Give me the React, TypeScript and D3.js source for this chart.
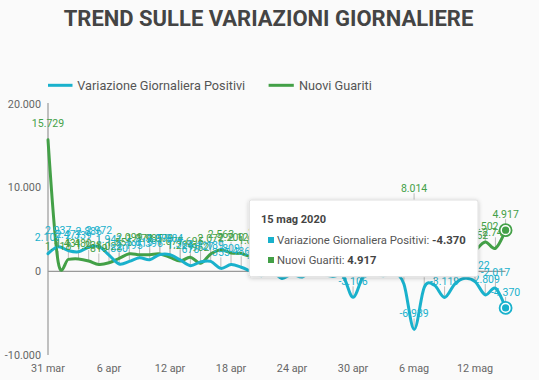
import React from 'react';
import * as d3 from 'd3';

const dates = [
  '2020-03-31', '2020-04-01', '2020-04-02', '2020-04-03', '2020-04-04', '2020-04-05', '2020-04-06',
  '2020-04-07', '2020-04-08', '2020-04-09', '2020-04-10', '2020-04-11', '2020-04-12', '2020-04-13',
  '2020-04-14', '2020-04-15', '2020-04-16', '2020-04-17', '2020-04-18', '2020-04-19', '2020-04-20',
  '2020-04-21', '2020-04-22', '2020-04-23', '2020-04-24', '2020-04-25', '2020-04-26', '2020-04-27',
  '2020-04-28', '2020-04-29', '2020-04-30', '2020-05-01', '2020-05-02', '2020-05-03', '2020-05-04',
  '2020-05-05', '2020-05-06', '2020-05-07', '2020-05-08', '2020-05-09', '2020-05-10', '2020-05-11',
  '2020-05-12', '2020-05-13', '2020-05-14', '2020-05-15',
];

const variazionePositivi = [
  2107, 2937, 2477, 2339, 2886, 2972, 1941, 880, 1195, 1615, 1396, 1996, 1984, 1363, 675, 1127,
  1189, 355, 809, 486, -20, -528, -10, -851, -321, -680, 256, -290, -608, -548, -3106, -608, -239,
  -525, -199, -1513, -6939, -1904, -1663, -3119, -1518, -836, -1222, -2809, -2017, -4370,
];

const nuoviGuariti = [
  15729, 1118, 1431, 1480, 1238, 819, 1022, 1555, 2099, 1979, 1985, 2079, 1677, 1224, 1695, 962,
  2072, 2563, 2200, 2128, 1822, 2723, 2943, 3033, 2922, 2622, 1808, 1696, 2317, 2311, 4693, 2304,
  1665, 1740, 1225, 2352, 8014, 3031, 2747, 4008, 2155, 1401, 2452, 3502, 2747, 4917,
];

const yTicks = [20000, 10000, 0, -10000];
const xTickDates = ['2020-03-31', '2020-04-06', '2020-04-12', '2020-04-18', '2020-04-24', '2020-04-30', '2020-05-06', '2020-05-12'];
const xTickLabels = ['31 mar', '6 apr', '12 apr', '18 apr', '24 apr', '30 apr', '6 mag', '12 mag'];
const seriesNames = ['Variazione Giornaliera Positivi', 'Nuovi Guariti'];
const chartTitle = 'TREND SULLE VARIAZIONI GIORNALIERE';
const tooltipTitle = '15 mag 2020';

const W = 539;
const H = 380;
const COLORS = ['#19b1cc', '#43a047'];
const FONT = 'Roboto, sans-serif';

export default function App() {
  const parse = d3.utcParse('%Y-%m-%d');
  const dt = dates.map((d) => parse(d) as Date);
  const x = d3.scaleUtc().domain([dt[0], dt[dt.length - 1]]).range([48, 505.6]);
  const y = d3.scaleLinear().domain([-10000, 20000]).range([355, 104]);
  const loc = d3.formatLocale({ decimal: ',', thousands: '.', grouping: [3], currency: ['', '€'], minus: '-' } as any);
  const fmt = loc.format(',d');

  const series = [variazionePositivi, nuoviGuariti];
  const lineGen = (vals: number[]) =>
    d3.line<number>()
      .x((_, i) => x(dt[i]))
      .y((d) => y(d))
      .curve(d3.curveCardinal)(vals) as string;

  const last = dates.length - 1;
  const xl = x(dt[last]);

  // draw order: green below, blue on top
  const order = [1, 0];

  return (
    <svg width={W} height={H} style={{ position: 'absolute', left: 0, top: 0, background: '#fafafa' }} fontFamily={FONT}>
      <defs>
        <filter id="tsh" x="-10%" y="-20%" width="120%" height="150%">
          <feDropShadow dx="0" dy="1" stdDeviation="2" floodColor="#000" floodOpacity="0.22" />
        </filter>
      </defs>
      <rect x={0} y={0} width={W} height={H} fill="#fafafa" />
      <text x={268.5} y={26} textAnchor="middle" fontSize={22} fontWeight="bold" fill="#444">{chartTitle}</text>

      {/* legend */}
      <line x1={48} x2={72.5} y1={85.3} y2={85.3} stroke={COLORS[0]} strokeWidth={3} />
      <text x={77.3} y={89.8} fontSize={12.7} fill="#555">{seriesNames[0]}</text>
      <line x1={268.6} x2={293.8} y1={85.3} y2={85.3} stroke={COLORS[1]} strokeWidth={3} />
      <text x={299} y={89.8} fontSize={12.7} fill="#555">{seriesNames[1]}</text>

      {/* axes */}
      <line x1={48} x2={48} y1={y(20000) - 1} y2={y(-10000)} stroke="#999" strokeWidth={1.2} />
      <line x1={48} x2={xl} y1={y(0)} y2={y(0)} stroke="#999" strokeWidth={1.2} />
      {yTicks.map((t) => (
        <text key={t} x={41} y={y(t) + 3.8} textAnchor="end" fontSize={10.8} fill="#666">{fmt(t)}</text>
      ))}
      {xTickDates.map((d, i) => (
        <text key={d} x={x(parse(d) as Date)} y={371.5} textAnchor="middle" fontSize={10.8} fill="#666">{xTickLabels[i]}</text>
      ))}

      {/* stems */}
      {order.map((s) =>
        series[s].map((v, i) => (
          <line key={`st${s}-${i}`} x1={x(dt[i])} x2={x(dt[i])} y1={y(v)} y2={y(v) - 11} stroke="#bbb" strokeWidth={1} />
        ))
      )}

      {/* lines */}
      {order.map((s) => (
        <path key={`l${s}`} d={lineGen(series[s])} fill="none" stroke={COLORS[s]} strokeWidth={3} strokeLinejoin="round" strokeLinecap="round" />
      ))}

      {/* data labels */}
      {order.map((s) =>
        series[s].map((v, i) => (
          <text key={`dl${s}-${i}`} x={x(dt[i])} y={y(v) - 12.3} textAnchor="middle" fontSize={10.5} fill={COLORS[s]}>{fmt(v)}</text>
        ))
      )}

      {/* hover markers */}
      {order.map((s) => (
        <g key={`m${s}`}>
          <circle cx={xl} cy={y(series[s][last])} r={6} fill="#fff" stroke={COLORS[s]} strokeWidth={1.8} />
          <circle cx={xl} cy={y(series[s][last])} r={3.6} fill={COLORS[s]} />
        </g>
      ))}

      {/* tooltip */}
      <g>
        <rect x={249.3} y={200} width={228.7} height={76.7} rx={2} fill="#fff" stroke="#e0e0e0" strokeWidth={1} filter="url(#tsh)" />
        <text x={261} y={223} fontSize={11} fontWeight="bold" fill="#444">{tooltipTitle}</text>
        {[0, 1].map((s) => (
          <g key={`tt${s}`}>
            <rect x={268} y={237 + s * 20} width={6} height={6} fill={COLORS[s]} />
            <text x={277} y={244 + s * 20} fontSize={11.3} fill="#555">
              {seriesNames[s]}: <tspan fontWeight="bold" fill="#444">{fmt(series[s][last])}</tspan>
            </text>
          </g>
        ))}
      </g>
    </svg>
  );
}
